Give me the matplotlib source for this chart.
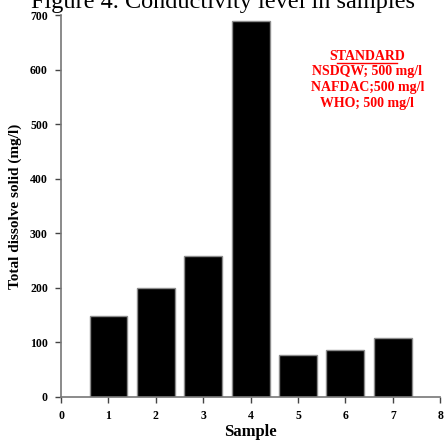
import matplotlib
matplotlib.use("Agg")
import matplotlib.pyplot as plt

# Données
samples = [1, 2, 3, 4, 5, 6, 7]
tds = [148, 200, 258, 690, 77, 86, 108]
xticks = [0, 1, 2, 3, 4, 5, 6, 7, 8]
yticks = [0, 100, 200, 300, 400, 500, 600, 700]
standard_lines = ["NSDQW; 500 mg/l", "NAFDAC;500 mg/l", "WHO; 500 mg/l"]

plt.rcParams['font.family'] = ['Liberation Serif', 'DejaVu Serif']

fig = plt.figure(figsize=(4.46, 4.47), dpi=100)
ax = fig.add_axes([0.137, 0.112, 0.85, 0.854])

ax.bar(samples, tds, width=0.8, color="black", edgecolor="#8c8c8c", linewidth=1)

ax.set_xlim(0, 8)
ax.set_ylim(0, 700)
ax.set_xticks(xticks)
ax.set_yticks(yticks)
for lab in ax.get_xticklabels() + ax.get_yticklabels():
    lab.set_fontweight("bold")
    lab.set_fontsize(8.5)
ax.tick_params(direction="out", length=4.5, width=1, color="#444444", pad=5)

for s in ["top", "right"]:
    ax.spines[s].set_visible(False)
for s in ["left", "bottom"]:
    ax.spines[s].set_color("#777777")
    ax.spines[s].set_linewidth(1.2)

ax.set_xlabel("Sample", fontsize=12, fontweight="bold", labelpad=1)
ax.set_ylabel("Total dissolve solid (mg/l)", fontsize=11, fontweight="bold", labelpad=6)

# Encadré des normes
ax.text(6.46, 624, "STANDARD", color="red", fontsize=10, fontweight="bold",
        ha="center", va="center")
ax.plot([5.83, 7.09], [612, 612], color="red", lw=1)
for i, t in enumerate(standard_lines):
    ax.text(6.46, 596 - i * 29, t, color="red", fontsize=10, fontweight="bold",
            ha="center", va="center")

# Titre (coupé en haut comme dans l'original)
fig.text(0.5, 0.982, "Figure 4. Conductivity level in samples", fontsize=17.5,
         ha="center", va="baseline")

fig.savefig("out.png", dpi=100)
